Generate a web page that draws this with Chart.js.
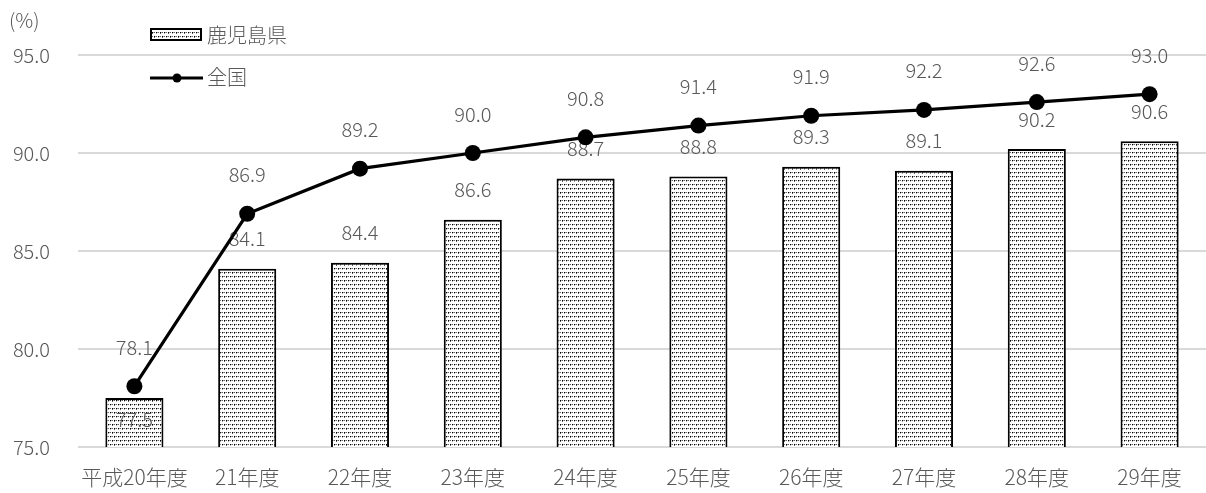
<!DOCTYPE html>
<html><head><meta charset="utf-8">
<script src="https://cdn.jsdelivr.net/npm/chart.js@4.4.1/dist/chart.umd.min.js"></script>
<style>html,body{margin:0;padding:0;background:#fff;}#wrap{width:1206px;height:493px;position:relative;}</style>
</head><body><div id="wrap"><canvas id="c" width="1206" height="493"></canvas></div>
<script>
const categories = ['平成20年度','21年度','22年度','23年度','24年度','25年度','26年度','27年度','28年度','29年度'];
const kagoshima = [77.5,84.1,84.4,86.6,88.7,88.8,89.3,89.1,90.2,90.6];
const zenkoku = [78.1,86.9,89.2,90.0,90.8,91.4,91.9,92.2,92.6,93.0];
const seriesNames = ['鹿児島県','全国'];
const yTicks = [75,80,85,90,95];
const unitLabel = '(%)';

const FONT = '"Noto Sans CJK JP", "Noto Sans", sans-serif';
const W = '300 ';
const GRAY = '#595959';

function makePattern(){
  const t = document.createElement('canvas'); t.width = 8; t.height = 8;
  const g = t.getContext('2d');
  g.fillStyle = '#ffffff'; g.fillRect(0,0,8,8);
  const px = (c, pts) => { g.fillStyle = c; pts.forEach(p => g.fillRect(p[0], p[1], 1, 1)); };
  px('#000000', [[0,0],[4,0],[2,4],[6,4]]);
  px('#606060', [[2,0],[6,0],[0,4],[4,4],[0,1],[2,5]]);
  px('#a8a8a8', [[4,1],[6,5],[1,0],[3,4],[5,0],[7,4]]);
  return g.createPattern(t,'repeat');
}
const ctx0 = document.getElementById('c').getContext('2d');
const pattern = makePattern();

const labelPlugin = {
  id: 'valueLabels',
  afterDatasetDraw(chart, args, opts){
    const ctx = chart.ctx;
    const ds = chart.data.datasets[args.index];
    const meta = args.meta;
    ctx.save();
    ctx.font = W + '20px ' + FONT;
    ctx.fillStyle = GRAY;
    ctx.textAlign = 'center';
    ctx.textBaseline = 'middle';
    meta.data.forEach((el, i) => {
      const v = ds.data[i];
      let y;
      if (ds.type === 'bar') {
        const ov = opts.barOverride[i];
        y = el.y + (ov !== undefined ? ov : opts.barOffset);
      } else {
        y = el.y + opts.lineOffset;
      }
      ctx.fillText(v.toFixed(1), el.x, y);
    });
    ctx.restore();
  }
};

const extrasPlugin = {
  id: 'extras',
  afterDraw(chart){
    const ctx = chart.ctx;
    ctx.save();
    ctx.font = W + '20px ' + FONT;
    ctx.fillStyle = GRAY;
    ctx.textBaseline = 'middle';
    ctx.textAlign = 'left';
    ctx.fillText(unitLabel, 9, 20);
    ctx.fillStyle = pattern;
    ctx.fillRect(151, 29, 50, 11);
    ctx.strokeStyle = '#000'; ctx.lineWidth = 2;
    ctx.strokeRect(151, 29, 50, 11);
    ctx.fillStyle = GRAY;
    ctx.fillText(seriesNames[0], 207, 35);
    ctx.beginPath(); ctx.moveTo(150, 78); ctx.lineTo(203, 78);
    ctx.lineWidth = 3; ctx.strokeStyle = '#000'; ctx.stroke();
    ctx.beginPath(); ctx.arc(177, 78, 4.5, 0, Math.PI*2); ctx.fillStyle = '#000'; ctx.fill();
    ctx.fillStyle = GRAY;
    ctx.fillText(seriesNames[1], 207, 77);
    ctx.restore();
  }
};

new Chart(ctx0, {
  data: {
    labels: categories,
    datasets: [
      { type: 'line', label: seriesNames[1], data: zenkoku, order: 0,
        borderColor: '#000', borderWidth: 3.2, pointRadius: 8, pointBackgroundColor: '#000',
        pointBorderWidth: 0, tension: 0, fill: false, clip: false },
      { type: 'bar', label: seriesNames[0], data: kagoshima, order: 1,
        backgroundColor: pattern, borderColor: '#000', borderWidth: 2,
        barPercentage: 0.515, categoryPercentage: 1.0 }
    ]
  },
  options: {
    responsive: false, animation: false,
    layout: { autoPadding: false, padding: { top: 55, right: 0, left: 0, bottom: 0 } },
    plugins: {
      legend: { display: false }, tooltip: { enabled: false },
      valueLabels: { barOffset: -30, lineOffset: -39, barOverride: { 0: 21 } }
    },
    scales: {
      x: {
        grid: { display: false, drawTicks: false },
        border: { display: false },
        ticks: { color: GRAY, font: { family: FONT, size: 21, weight: 300 }, padding: 17, maxRotation: 0 },
        afterFit(s){ s.height = 46; s.paddingLeft = 0; s.paddingRight = 0; }
      },
      y: {
        min: 75, max: 95,
        afterBuildTicks(s){ s.ticks = yTicks.map(v => ({ value: v })); },
        grid: { color: '#d9d9d9', lineWidth: 2, drawTicks: false },
        border: { display: false },
        ticks: { color: GRAY, font: { family: FONT, size: 20, weight: 300 }, padding: 28,
                 callback: v => Number(v).toFixed(1) },
        afterFit(s){ s.width = 78; }
      }
    }
  },
  plugins: [labelPlugin, extrasPlugin]
});
</script></body></html>
